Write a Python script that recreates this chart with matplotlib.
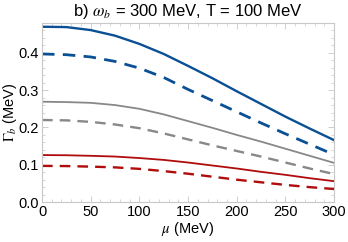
import matplotlib
matplotlib.use("Agg")
import matplotlib.pyplot as plt
from matplotlib.ticker import MultipleLocator

plt.rcParams['font.family'] = ['Liberation Sans', 'DejaVu Sans']
plt.rcParams['mathtext.fontset'] = 'stix'

# curves: mu in MeV, Gamma_b in MeV
mu = [0, 25, 50, 75, 100, 125, 150, 175, 200, 225, 250, 275, 300]
blue_solid = [0.470, 0.469, 0.461, 0.446, 0.424, 0.397, 0.365, 0.332,
              0.297, 0.263, 0.229, 0.197, 0.166]
blue_dash = [0.397, 0.395, 0.389, 0.377, 0.359, 0.334, 0.302, 0.272,
             0.242, 0.212, 0.183, 0.155, 0.127]
gray_solid = [0.269, 0.268, 0.266, 0.260, 0.250, 0.235, 0.217, 0.199,
              0.180, 0.162, 0.143, 0.124, 0.105]
gray_dash = [0.220, 0.219, 0.215, 0.208, 0.198, 0.184, 0.168, 0.152,
             0.137, 0.122, 0.106, 0.090, 0.075]
red_solid = [0.126, 0.1255, 0.124, 0.122, 0.118, 0.113, 0.106, 0.098,
             0.090, 0.081, 0.073, 0.064, 0.056]
red_dash = [0.097, 0.0965, 0.095, 0.093, 0.089, 0.083, 0.076, 0.068,
            0.060, 0.053, 0.046, 0.040, 0.035]

blue = '#0b4f94'
gray = '#888888'
red = '#b00c0c'
frame = '#c8c8c8'

fig = plt.figure(figsize=(3.48, 2.42), dpi=100)
ax = fig.add_axes([0.1207, 0.165, 0.8393, 0.74])

dash = (0, (4.5, 3))
ax.plot(mu, blue_solid, color=blue, lw=1.7)
ax.plot(mu, blue_dash, color=blue, lw=2.0, ls=dash)
ax.plot(mu, gray_solid, color=gray, lw=1.3)
ax.plot(mu, gray_dash, color=gray, lw=1.7, ls=dash)
ax.plot(mu, red_solid, color=red, lw=1.3)
ax.plot(mu, red_dash, color=red, lw=1.7, ls=dash)

ax.set_xlim(0, 300)
ax.set_ylim(0, 0.48)
ax.xaxis.set_major_locator(MultipleLocator(50))
ax.xaxis.set_minor_locator(MultipleLocator(10))
ax.yaxis.set_major_locator(MultipleLocator(0.1))
ax.yaxis.set_minor_locator(MultipleLocator(0.02))
ax.yaxis.set_major_formatter(plt.FuncFormatter(lambda v, p: '%.1f' % v))

for s in ax.spines.values():
    s.set_color(frame)
    s.set_linewidth(0.8)
ax.tick_params(which='both', direction='in', top=True, right=True,
               color=frame, labelsize=10.5, pad=2)
ax.tick_params(which='major', length=4, width=0.6)
ax.tick_params(which='minor', length=2, width=0.5)

ax.set_title(r'b) $\omega_b$ = 300 MeV, T = 100 MeV', fontsize=12, pad=5)
ax.set_xlabel(r'$\mu$ (MeV)', fontsize=10.5, labelpad=1)
ax.set_ylabel(r'$\Gamma_b$ (MeV)', fontsize=10.5, labelpad=0)

fig.savefig('out.png', dpi=100)
